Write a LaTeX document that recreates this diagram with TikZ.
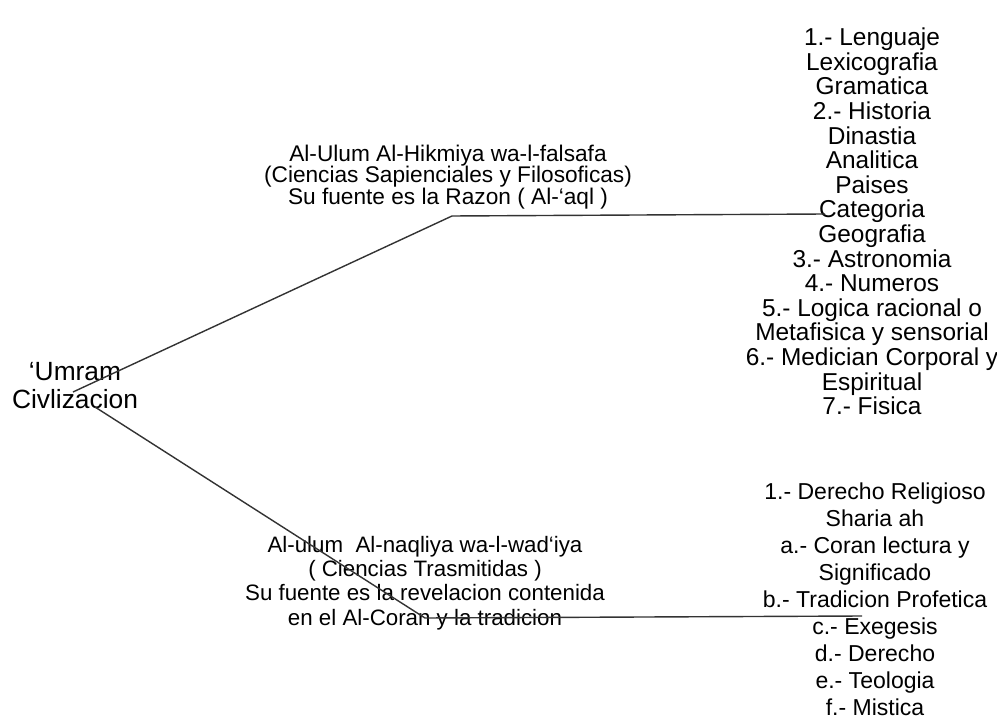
\documentclass[tikz,border=0pt]{standalone}
\usepackage{fontspec}
\setmainfont{Liberation Sans}

\begin{document}
\begin{tikzpicture}[x=0.02cm, y=-0.02cm,
        rama/.style={draw=black!80, line width=0.8pt},
        texto/.style={align=center, text=black, inner sep=0pt},
        raiz/.style={texto, font=\fontsize{15}{15.9}\selectfont},
        ciencia/.style={texto, font=\fontsize{12.9}{12.2}\selectfont},
        lista/.style={texto, font=\fontsize{13.9}{14}\selectfont}
    ]
    \useasboundingbox (0,0) rectangle (997,719);

    % Define root
    \node[raiz] (umram) at (75,386) {\symbol{"60}Umram\\Civlizacion};

    % Define branches
    \node[ciencia] (hikmiya) at (448,177) {Al-Ulum Al-Hikmiya wa-l-falsafa\\(Ciencias Sapienciales y Filosoficas)\\Su fuente es la Razon ( Al-\symbol{"60}aql )};
    \node[ciencia, font=\fontsize{12.7}{13.8}\selectfont] (naqliya) at (425,583) {Al-ulum\ \ Al-naqliya wa-l-wad\symbol{"60}iya\\( Ciencias Trasmitidas )\\Su fuente es la revelacion contenida\\en el Al-Coran y la tradicion};

    % Define lists
    \node[lista] (hikmialista) at (872,221.5) {1.- Lenguaje\\Lexicografia\\Gramatica\\2.- Historia\\Dinastia\\Analitica\\Paises\\Categoria\\Geografia\\3.- Astronomia\\4.- Numeros\\5.- Logica racional o\\Metafisica y sensorial\\6.- Medician Corporal y\\Espiritual\\7.- Fisica};
    \node[lista, font=\fontsize{13.1}{15.4}\selectfont] (naqlilista) at (875,599) {1.- Derecho Religioso\\Sharia ah\\a.- Coran lectura y\\Significado\\b.- Tradicion Profetica\\c.- Exegesis\\d.- Derecho\\e.- Teologia\\f.- Mistica};

    % Branch points
    \coordinate (raizA) at (73,392);
    \coordinate (raizB) at (95,407);
    \coordinate (codoH) at (452,216);
    \coordinate (finH) at (825,214);
    \coordinate (codoN) at (425,618);
    \coordinate (finN) at (862,616);

    % Draw branches
    \draw[rama] (raizA) -- (codoH) -- (finH);
    \draw[rama] (raizB) -- (codoN) -- (finN);

\end{tikzpicture}
\end{document}
